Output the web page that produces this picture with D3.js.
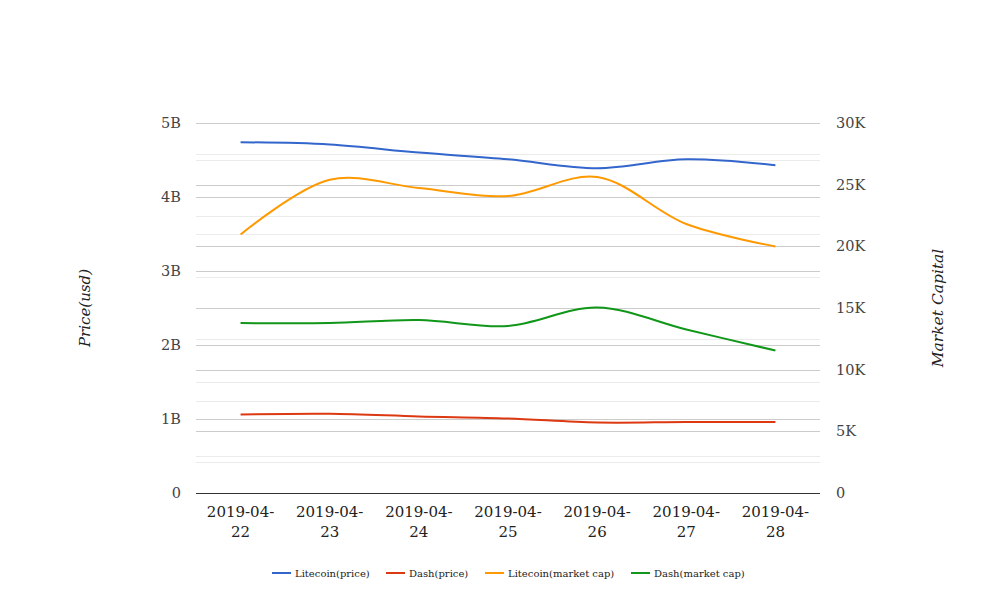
<!DOCTYPE html>
<html>
<head>
<meta charset="utf-8">
<script src="https://d3js.org/d3.v7.min.js"></script>
<style>
  body { margin: 0; background: #fff; }
  text { font-family: "DejaVu Serif", serif; }
</style>
</head>
<body>
<svg id="mysvg" width="1008" height="616"></svg>
<script>
// data
var dates = ["2019-04-22", "2019-04-23", "2019-04-24", "2019-04-25", "2019-04-26", "2019-04-27", "2019-04-28"];
var litecoinPrice = [4.74e9, 4.71e9, 4.60e9, 4.51e9, 4.39e9, 4.51e9, 4.43e9];
var dashPrice = [1.06e9, 1.07e9, 1.035e9, 1.007e9, 0.953e9, 0.959e9, 0.96e9];
var litecoinCap = [20960, 25400, 24730, 24080, 25620, 21810, 19990];
var dashCap = [13780, 13780, 14030, 13540, 15040, 13260, 11550];
var leftTicks = [0, 1e9, 2e9, 3e9, 4e9, 5e9];
var rightTicks = [0, 5000, 10000, 15000, 20000, 25000, 30000];

var series = [
  {name: "Litecoin(price)", values: litecoinPrice, axis: "left", color: "#3366cc"},
  {name: "Dash(price)", values: dashPrice, axis: "left", color: "#dc3912"},
  {name: "Litecoin(market cap)", values: litecoinCap, axis: "right", color: "#ff9900"},
  {name: "Dash(market cap)", values: dashCap, axis: "right", color: "#109618"}
];

var svg = d3.select("#mysvg"),
    margin = {top: 123, right: 188, bottom: 123, left: 196},
    width = +svg.attr("width") - margin.left - margin.right,
    height = +svg.attr("height") - margin.top - margin.bottom;

var x = d3.scalePoint().domain(dates).range([0, width]).padding(0.5);
var yL = d3.scaleLinear().domain([0, 5e9]).range([height, 0]);
var yR = d3.scaleLinear().domain([0, 30000]).range([height, 0]);

var g = svg.append("g")
    .attr("transform", "translate(" + margin.left + "," + margin.top + ")");

// minor gridlines (half steps)
var minorL = d3.range(0.5e9, 5e9, 1e9);
var minorR = d3.range(2500, 30000, 5000);
g.selectAll(".minorL").data(minorL).enter().append("line")
  .attr("x1", 0).attr("x2", width)
  .attr("y1", function(d) { return Math.round(yL(d)) + 0.5; })
  .attr("y2", function(d) { return Math.round(yL(d)) + 0.5; })
  .attr("stroke", "#ebebeb");
g.selectAll(".minorR").data(minorR).enter().append("line")
  .attr("x1", 0).attr("x2", width)
  .attr("y1", function(d) { return Math.round(yR(d)) + 0.5; })
  .attr("y2", function(d) { return Math.round(yR(d)) + 0.5; })
  .attr("stroke", "#ebebeb");

// major gridlines
g.selectAll(".majorL").data(leftTicks.slice(1)).enter().append("line")
  .attr("x1", 0).attr("x2", width)
  .attr("y1", function(d) { return Math.round(yL(d)) + 0.5; })
  .attr("y2", function(d) { return Math.round(yL(d)) + 0.5; })
  .attr("stroke", "#cccccc");
g.selectAll(".majorR").data(rightTicks.slice(1)).enter().append("line")
  .attr("x1", 0).attr("x2", width)
  .attr("y1", function(d) { return Math.round(yR(d)) + 0.5; })
  .attr("y2", function(d) { return Math.round(yR(d)) + 0.5; })
  .attr("stroke", "#cccccc");

// baseline
g.append("line")
  .attr("x1", 0).attr("x2", width)
  .attr("y1", height + 0.5).attr("y2", height + 0.5)
  .attr("stroke", "#333333");

// left tick labels
var leftAxis = g.append("g")
  .call(d3.axisLeft(yL).tickValues(leftTicks).tickSize(0).tickPadding(15)
    .tickFormat(function(d) { return d === 0 ? "0" : (d / 1e9) + "B"; }));
leftAxis.select(".domain").remove();
leftAxis.selectAll("text").attr("font-size", "14.5px").attr("fill", "#444").attr("font-family", "DejaVu Serif, serif");

// right tick labels
var rightAxis = g.append("g")
  .attr("transform", "translate(" + width + ",0)")
  .call(d3.axisRight(yR).tickValues(rightTicks).tickSize(0).tickPadding(16)
    .tickFormat(function(d) { return d === 0 ? "0" : (d / 1000) + "K"; }));
rightAxis.select(".domain").remove();
rightAxis.selectAll("text").attr("font-size", "14.5px").attr("fill", "#444").attr("font-family", "DejaVu Serif, serif");

// x labels, split on two lines
var xl = g.selectAll(".xlab").data(dates).enter().append("text")
  .attr("text-anchor", "middle")
  .attr("font-size", "15px")
  .attr("fill", "#222");
xl.append("tspan")
  .attr("x", function(d) { return x(d); })
  .attr("y", height + 24)
  .text(function(d) { return d.slice(0, 8); });
xl.append("tspan")
  .attr("x", function(d) { return x(d); })
  .attr("y", height + 44)
  .text(function(d) { return d.slice(8); });

// lines
series.forEach(function(s) {
  var yy = s.axis === "left" ? yL : yR;
  var line = d3.line()
    .x(function(d, i) { return x(dates[i]); })
    .y(function(d) { return yy(d); })
    .curve(d3.curveCatmullRom.alpha(0.5));
  g.append("path")
    .datum(s.values)
    .attr("d", line)
    .attr("fill", "none")
    .attr("stroke", s.color)
    .attr("stroke-width", 2);
});

// axis titles
svg.append("text")
  .attr("text-anchor", "middle")
  .attr("transform", "translate(90," + (margin.top + height / 2) + ")rotate(-90)")
  .attr("font-size", "15px")
  .attr("font-style", "italic")
  .attr("fill", "#222")
  .text("Price(usd)");
svg.append("text")
  .attr("text-anchor", "middle")
  .attr("transform", "translate(943," + (margin.top + height / 2) + ")rotate(-90)")
  .attr("font-size", "15.5px")
  .attr("font-style", "italic")
  .attr("fill", "#222")
  .text("Market Capital");

// legend
var legendX = [272, 386, 485, 631];
var lg = svg.selectAll(".legend").data(series).enter().append("g")
  .attr("transform", function(d, i) { return "translate(" + legendX[i] + ",573)"; });
lg.append("line")
  .attr("x1", 0).attr("x2", 19)
  .attr("stroke", function(d) { return d.color; })
  .attr("stroke-width", 2);
lg.append("text")
  .attr("x", 23)
  .attr("dy", "0.35em")
  .attr("font-size", "10px")
  .attr("fill", "#222")
  .text(function(d) { return d.name; });
</script>
</body>
</html>
